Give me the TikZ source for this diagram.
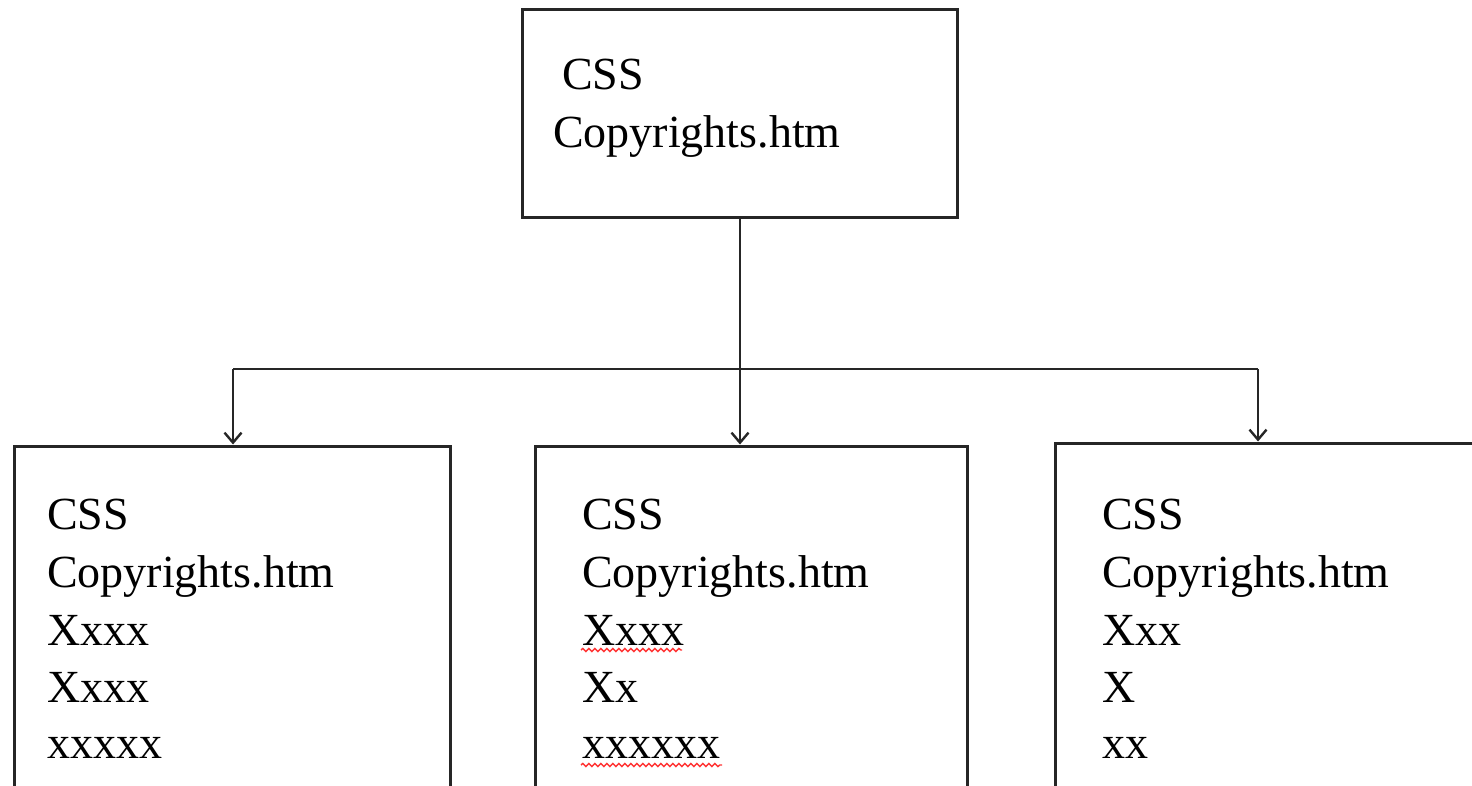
\documentclass[tikz,border=0pt]{standalone}
\usepackage{fontspec}
\setmainfont{Liberation Serif}
\usetikzlibrary{arrows.meta,decorations.pathmorphing}
\tikzset{
  box/.style={draw=black!85, line width=3pt, rectangle, inner sep=0pt},
  conn/.style={draw=black!85, line width=2.4pt},
  arr/.style={conn, -{Straight Barb[length=10pt,width=17pt,line width=2.4pt]}},
  txt/.style={anchor=base west, inner sep=0pt, font=\fontsize{46}{57}\selectfont},
  spell/.style={draw=red!80, line width=1.4pt, decorate, decoration={snake, amplitude=1.6pt, segment length=6pt}}
}
\begin{document}
\begin{tikzpicture}[x=1pt,y=-1pt]
\useasboundingbox (0,0) rectangle (1472,786);
\clip (0,0) rectangle (1472,786);
\fill[white] (0,0) rectangle (1472,786);
% boxes
\node[box, minimum width=435pt, minimum height=208pt] (top) at (740,114) {};
\node[box, minimum width=436pt, minimum height=400pt] (left) at (232,646) {};
\node[box, minimum width=432pt, minimum height=400pt] (mid) at (751,646) {};
\node[box, minimum width=460pt, minimum height=400pt] (right) at (1285,643) {};
% connectors
\coordinate (jn) at (740,369);
\coordinate (jl) at (233,369);
\coordinate (jr) at (1258,369);
\draw[conn] (top.south) -- (jn);
\draw[conn] (jl) -- (jr);
\draw[arr] (jl) -- (jl |- left.north);
\draw[arr] (jn) -- (jn |- mid.north);
\draw[arr] (jr) -- (jr |- right.north);
% top text
\node[txt] (t1) at (562,90) {CSS};
\node[txt] (t2) at (553,148) {Copyrights.htm};
% left text
\node[txt] (l1) at (47,529) {CSS};
\node[txt] (l2) at (47,587) {Copyrights.htm};
\node[txt] (l3) at (47,645) {Xxxx};
\node[txt] (l4) at (47,702) {Xxxx};
\node[txt] (l5) at (47,758) {xxxxx};
% middle text
\node[txt] (m1) at (582,529) {CSS};
\node[txt] (m2) at (582,587) {Copyrights.htm};
\node[txt] (m3) at (582,645) {Xxxx};
\node[txt] (m4) at (582,702) {Xx};
\node[txt] (m5) at (582,758) {xxxxxx};
\draw[spell] (581,650) -- (682,650);
\draw[spell] (581,765) -- (722,765);
% right text
\node[txt] (r1) at (1102,529) {CSS};
\node[txt] (r2) at (1102,587) {Copyrights.htm};
\node[txt] (r3) at (1102,645) {Xxx};
\node[txt] (r4) at (1102,702) {X};
\node[txt] (r5) at (1102,758) {xx};
\end{tikzpicture}
\end{document}
